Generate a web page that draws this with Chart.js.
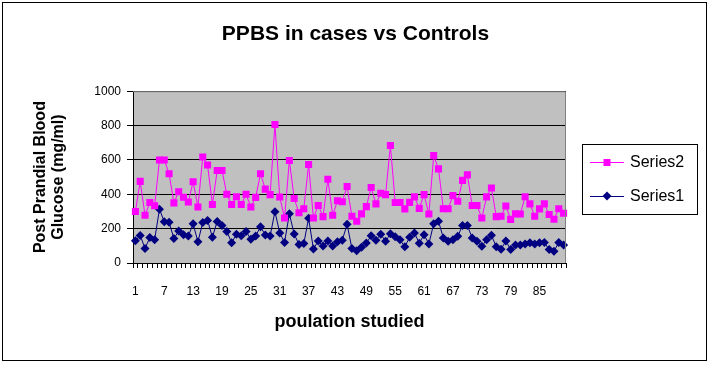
<!DOCTYPE html>
<html>
<head>
<meta charset="utf-8">
<script src="https://cdn.jsdelivr.net/npm/chart.js@4.4.0/dist/chart.umd.min.js"></script>
<style>
  html, body { margin: 0; padding: 0; background: #fff; }
</style>
</head>
<body>
<canvas id="ppbsChart" width="711" height="365"></canvas>
<script>
const categories = [
  '1','2','3','4','5','6','7','8','9','10','11','12','13','14','15','16','17','18','19','20',
  '21','22','23','24','25','26','27','28','29','30','31','32','33','34','35','36','37','38','39','40',
  '41','42','43','44','45','46','47','48','49','50','51','52','53','54','55','56','57','58','59','60',
  '61','62','63','64','65','66','67','68','69','70','71','72','73','74','75','76','77','78','79','80',
  '81','82','83','84','85','86','87','88','89','90'
];
const shownLabels = ['1','7','13','19','25','31','37','43','49','55','61','67','73','79','85'];
const yTicks = [0, 200, 400, 600, 800, 1000];

// cases
const series2 = [
  300, 475, 278, 352, 333, 600, 600, 520, 350, 415, 383, 355, 473, 326, 617, 570, 340, 538, 538, 400,
  340, 386, 340, 400, 326, 382, 520, 430, 398, 806, 384, 262, 597, 375, 293, 316, 573, 262, 335, 270,
  488, 278, 362, 357, 445, 272, 243, 286, 328, 439, 344, 406, 398, 684, 352, 352, 315, 353, 385, 318,
  398, 285, 625, 548, 316, 316, 392, 359, 481, 513, 335, 335, 262, 385, 437, 270, 272, 332, 254, 286,
  285, 386, 344, 272, 315, 344, 282, 255, 316, 290
];
// controls
const series1 = [
  130, 160, 85, 148, 136, 313, 240, 237, 142, 186, 164, 157, 228, 123, 236, 248, 150, 242, 218, 184,
  118, 167, 159, 184, 138, 157, 211, 163, 157, 299, 175, 120, 286, 169, 107, 113, 260, 82, 128, 99,
  128, 99, 123, 133, 225, 85, 72, 92, 116, 158, 133, 167, 126, 170, 153, 135, 94, 150, 175, 115,
  165, 111, 229, 243, 146, 126, 136, 155, 219, 219, 146, 126, 97, 136, 161, 95, 80, 128, 78, 105,
  105, 110, 118, 110, 118, 120, 78, 68, 120, 105
];

const FONT = '"Liberation Sans", Arial, sans-serif';

const excelLook = {
  id: 'excelLook',
  beforeDraw(chart) {
    const {ctx, chartArea: a} = chart;
    ctx.save();
    ctx.fillStyle = '#c0c0c0';
    ctx.fillRect(a.left, a.top, a.right - a.left, a.bottom - a.top);
    ctx.restore();
  },
  afterDraw(chart) {
    const {ctx, chartArea: a} = chart;
    ctx.save();
    // plot area border
    ctx.strokeStyle = '#808080';
    ctx.lineWidth = 1;
    ctx.beginPath();
    ctx.moveTo(a.left, a.top + 0.5);
    ctx.lineTo(a.right - 0.5, a.top + 0.5);
    ctx.lineTo(a.right - 0.5, a.bottom);
    ctx.stroke();

    // outer frame
    ctx.strokeStyle = '#000';
    ctx.strokeRect(2.5, 2.5, 704, 358);

    // legend box
    const lx = 582, ly = 144, lw = 115, lh = 70;
    ctx.fillStyle = '#fff';
    ctx.fillRect(lx, ly, lw, lh);
    ctx.strokeStyle = '#000';
    ctx.strokeRect(lx + 0.5, ly + 0.5, lw, lh);

    const order = [1, 0];
    order.forEach((di, k) => {
      const ds = chart.data.datasets[di];
      const y = ly + 18 + k * 34;
      ctx.strokeStyle = ds.borderColor;
      ctx.lineWidth = 1;
      ctx.beginPath();
      ctx.moveTo(lx + 8, y + 0.5);
      ctx.lineTo(lx + 42, y + 0.5);
      ctx.stroke();
      const mx = lx + 25;
      ctx.fillStyle = ds.backgroundColor;
      if (ds.pointStyle === 'rect') {
        ctx.fillRect(mx - 3.5, y - 3, 7, 7);
      } else {
        ctx.beginPath();
        ctx.moveTo(mx, y - 4.5);
        ctx.lineTo(mx + 4.5, y);
        ctx.lineTo(mx, y + 4.5);
        ctx.lineTo(mx - 4.5, y);
        ctx.closePath();
        ctx.fill();
      }
      ctx.fillStyle = '#000';
      ctx.font = '16px ' + FONT;
      ctx.textBaseline = 'middle';
      ctx.textAlign = 'left';
      ctx.fillText(ds.label, lx + 48, y + 1);
    });
    ctx.restore();
  }
};

const ctx = document.getElementById('ppbsChart').getContext('2d');
Chart.defaults.color = '#000';
Chart.defaults.font.family = FONT;

const chartData = {
  labels: categories,
  datasets: [
    {
      label: 'Series1',
      data: series1,
      borderColor: '#000080',
      backgroundColor: '#000080',
      pointStyle: 'rectRot',
      pointRadius: 4.5,
      pointBorderWidth: 0,
      borderWidth: 1,
      order: 2
    },
    {
      label: 'Series2',
      data: series2,
      borderColor: '#ff00ff',
      backgroundColor: '#ff00ff',
      pointStyle: 'rect',
      pointRadius: 5,
      pointBorderWidth: 0,
      borderWidth: 1,
      order: 1
    }
  ]
};

const chartOptions = {
  responsive: false,
  animation: false,
  layout: { padding: 0 },
  plugins: {
    legend: { display: false },
    tooltip: { enabled: false },
    title: {
      display: true,
      text: 'PPBS in cases vs Controls',
      color: '#000',
      font: { family: FONT, size: 21, weight: 'bold', lineHeight: 1.2 },
      padding: { top: 22, bottom: 44 }
    }
  },
  scales: {
    x: {
      type: 'category',
      offset: true,
      grid: { offset: true, drawOnChartArea: false, color: '#000', tickLength: 5 },
      border: { color: '#000' },
      ticks: {
        autoSkip: false,
        maxRotation: 0,
        padding: 16,
        font: { size: 12 },
        callback: function(value, index) {
          const lab = this.getLabelForValue(value);
          return shownLabels.includes(lab) ? lab : '';
        }
      },
      title: {
        display: true,
        text: 'poulation studied',
        font: { family: FONT, size: 18, weight: 'bold', lineHeight: 1.2 },
        padding: { top: 0, bottom: 32 }
      },
      afterFit(scale) { scale.height = 102; }
    },
    y: {
      min: 0,
      max: 1000,
      grid: { color: '#000', tickLength: 6 },
      border: { color: '#000' },
      ticks: {
        padding: 6,
        font: { size: 12 },
        callback: function(value) { return String(value); }
      },
      afterBuildTicks(scale) { scale.ticks = yTicks.map(v => ({ value: v })); },
      title: {
        display: true,
        text: ['Post Prandial Blood', 'Glucose (mg/ml)'],
        font: { family: FONT, size: 16, weight: 'bold', lineHeight: 1.15 },
        padding: { top: 31, bottom: 0 }
      },
      afterFit(scale) { scale.width = 133; }
    },
    yRight: {
      position: 'right',
      min: 0,
      max: 1000,
      grid: { display: false },
      border: { display: false },
      ticks: { display: false },
      afterFit(scale) { scale.width = 145; }
    }
  }
};

const ppbsChart = new Chart(ctx, {
  type: 'line',
  data: chartData,
  options: chartOptions,
  plugins: [excelLook]
});
</script>
</body>
</html>
